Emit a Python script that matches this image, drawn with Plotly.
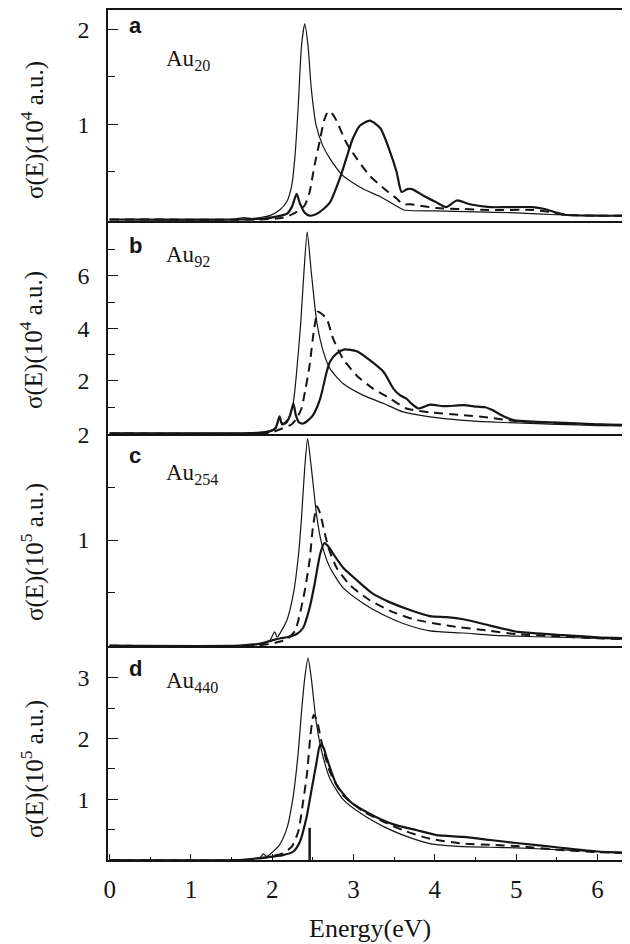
import plotly.graph_objects as go

# ---------------- data ----------------
# Panel a : Au20   (units 10^4 a.u.)
a_thin_E = [0, 1.5, 1.65, 1.75, 1.85, 1.97, 2.09, 2.18, 2.24, 2.28, 2.32, 2.36, 2.40, 2.44, 2.48, 2.54, 2.62, 2.71, 2.87, 3.12, 3.33, 3.53, 3.62, 4.0, 4.5, 5.0, 5.5, 6.0, 6.4]
a_thin_y = [0, 0, 0.02, 0.01, 0.02, 0.04, 0.10, 0.19, 0.36, 0.67, 1.20, 1.83, 2.06, 1.83, 1.38, 0.99, 0.78, 0.64, 0.46, 0.32, 0.24, 0.14, 0.10, 0.09, 0.08, 0.07, 0.05, 0.04, 0.04]
a_dash_E = [0, 1.8, 2.05, 2.18, 2.30, 2.40, 2.46, 2.52, 2.59, 2.64, 2.69, 2.74, 2.79, 2.91, 3.04, 3.20, 3.41, 3.53, 3.61, 3.70, 3.78, 4.02, 4.35, 4.7, 5.2, 5.4, 5.6, 6.0, 6.4]
a_dash_y = [0, 0, 0.01, 0.03, 0.08, 0.15, 0.29, 0.57, 0.85, 1.05, 1.14, 1.11, 1.04, 0.81, 0.64, 0.46, 0.30, 0.22, 0.16, 0.16, 0.15, 0.12, 0.11, 0.10, 0.10, 0.08, 0.05, 0.04, 0.04]
a_thick_E = [0, 1.6, 1.9, 2.05, 2.18, 2.24, 2.30, 2.34, 2.40, 2.46, 2.55, 2.63, 2.71, 2.83, 2.91, 2.99, 3.08, 3.20, 3.33, 3.45, 3.53, 3.59, 3.66, 3.72, 3.86, 4.02, 4.14, 4.27, 4.43, 4.68, 4.9, 5.2, 5.35, 5.5, 5.6, 6.0, 6.4]
a_thick_y = [0, 0, 0.01, 0.03, 0.06, 0.13, 0.27, 0.17, 0.07, 0.04, 0.06, 0.11, 0.18, 0.43, 0.64, 0.85, 0.99, 1.04, 0.96, 0.71, 0.50, 0.29, 0.32, 0.32, 0.25, 0.18, 0.13, 0.20, 0.16, 0.13, 0.13, 0.13, 0.11, 0.07, 0.05, 0.04, 0.04]

# Panel b : Au92   (units 10^4 a.u.)
b_thin_E = [0, 1.6, 1.8, 1.89, 1.97, 2.03, 2.07, 2.09, 2.11, 2.14, 2.20, 2.26, 2.30, 2.35, 2.39, 2.43, 2.48, 2.55, 2.63, 2.71, 2.87, 3.12, 3.37, 3.61, 3.94, 4.35, 4.68, 5.0, 5.5, 6.0, 6.4]
b_thin_y = [0, 0, 0.02, 0.04, 0.10, 0.20, 0.40, 0.60, 0.42, 0.40, 0.57, 1.20, 2.35, 4.20, 6.15, 7.68, 6.15, 4.20, 3.10, 2.47, 1.90, 1.45, 1.14, 0.82, 0.63, 0.50, 0.44, 0.40, 0.35, 0.30, 0.28]
b_dash_E = [0, 1.8, 2.0, 2.13, 2.24, 2.30, 2.36, 2.41, 2.46, 2.51, 2.56, 2.61, 2.67, 2.75, 2.87, 3.04, 3.24, 3.45, 3.65, 3.94, 4.35, 4.68, 5.0, 5.5, 6.0, 6.4]
b_dash_y = [0, 0, 0.05, 0.20, 0.35, 0.57, 0.95, 1.71, 2.60, 3.86, 4.63, 4.55, 4.37, 3.60, 2.85, 2.20, 1.71, 1.33, 0.95, 0.80, 0.70, 0.60, 0.47, 0.40, 0.34, 0.30]
b_thick_E = [0, 1.6, 1.85, 1.97, 2.04, 2.09, 2.12, 2.17, 2.22, 2.26, 2.29, 2.33, 2.38, 2.44, 2.50, 2.59, 2.67, 2.71, 2.79, 2.89, 3.04, 3.20, 3.37, 3.49, 3.57, 3.65, 3.71, 3.80, 3.94, 4.10, 4.25, 4.35, 4.52, 4.62, 4.70, 4.85, 4.98, 5.2, 5.6, 6.0, 6.4]
b_thick_y = [0, 0, 0.03, 0.08, 0.20, 0.65, 0.35, 0.40, 0.70, 1.14, 0.70, 0.42, 0.38, 0.50, 0.69, 1.33, 2.35, 2.73, 3.04, 3.20, 3.13, 2.79, 2.34, 1.71, 1.46, 1.33, 1.14, 0.95, 1.10, 1.04, 1.06, 1.08, 1.02, 1.00, 0.90, 0.65, 0.50, 0.45, 0.40, 0.35, 0.32]

# Panel c : Au254  (units 10^5 a.u.)
c_thin_E = [0, 1.6, 1.8, 1.89, 1.97, 2.03, 2.06, 2.09, 2.18, 2.26, 2.32, 2.36, 2.40, 2.435, 2.48, 2.55, 2.61, 2.71, 2.87, 3.12, 3.37, 3.61, 3.94, 4.35, 4.68, 5.0, 5.5, 6.0, 6.4]
c_thin_y = [0, 0, 0.01, 0.02, 0.05, 0.13, 0.08, 0.11, 0.24, 0.49, 0.84, 1.21, 1.69, 1.96, 1.69, 1.21, 0.96, 0.74, 0.55, 0.40, 0.29, 0.21, 0.14, 0.12, 0.10, 0.09, 0.08, 0.07, 0.06]
c_dash_E = [0, 1.8, 2.05, 2.18, 2.28, 2.34, 2.40, 2.46, 2.50, 2.55, 2.59, 2.63, 2.69, 2.79, 2.96, 3.20, 3.45, 3.74, 4.15, 4.68, 5.0, 5.5, 6.0, 6.4]
c_dash_y = [0, 0, 0.03, 0.06, 0.14, 0.30, 0.52, 0.81, 1.12, 1.32, 1.25, 1.12, 0.93, 0.74, 0.57, 0.43, 0.33, 0.25, 0.19, 0.14, 0.11, 0.09, 0.07, 0.06]
c_thick_E = [0, 1.6, 1.85, 2.0, 2.1, 2.18, 2.30, 2.38, 2.46, 2.52, 2.59, 2.64, 2.70, 2.75, 2.87, 3.04, 3.24, 3.45, 3.65, 3.94, 4.15, 4.35, 4.68, 5.03, 5.57, 6.0, 6.4]
c_thick_y = [0, 0, 0.02, 0.05, 0.07, 0.08, 0.11, 0.17, 0.36, 0.58, 0.87, 0.97, 0.93, 0.87, 0.74, 0.62, 0.49, 0.41, 0.35, 0.28, 0.27, 0.25, 0.19, 0.13, 0.10, 0.08, 0.07]

# Panel d : Au440  (units 10^5 a.u.)
d_thin_E = [0, 1.5, 1.75, 1.85, 1.89, 1.93, 1.97, 2.09, 2.18, 2.26, 2.32, 2.36, 2.40, 2.44, 2.48, 2.54, 2.61, 2.71, 2.87, 3.12, 3.37, 3.61, 3.94, 4.35, 4.68, 5.0, 5.5, 6.0, 6.4]
d_thin_y = [0, 0, 0.02, 0.04, 0.10, 0.06, 0.09, 0.25, 0.52, 1.07, 1.78, 2.44, 3.00, 3.33, 3.00, 2.28, 1.78, 1.34, 1.00, 0.74, 0.55, 0.41, 0.27, 0.22, 0.21, 0.20, 0.17, 0.14, 0.13]
d_dash_E = [0, 1.7, 1.95, 2.13, 2.24, 2.32, 2.38, 2.43, 2.47, 2.51, 2.55, 2.60, 2.71, 2.87, 3.12, 3.37, 3.61, 3.94, 4.35, 4.68, 5.0, 5.5, 6.0, 6.4]
d_dash_y = [0, 0, 0.05, 0.11, 0.22, 0.47, 0.96, 1.45, 2.06, 2.39, 2.30, 1.98, 1.45, 1.07, 0.80, 0.63, 0.49, 0.35, 0.27, 0.25, 0.23, 0.17, 0.13, 0.11]
d_thick_E = [0, 1.6, 1.9, 2.13, 2.26, 2.34, 2.42, 2.48, 2.54, 2.59, 2.63, 2.67, 2.79, 2.96, 3.12, 3.32, 3.53, 3.78, 4.02, 4.35, 4.68, 5.0, 5.5, 6.0, 6.4]
d_thick_y = [0, 0, 0.04, 0.08, 0.14, 0.30, 0.69, 1.13, 1.57, 1.90, 1.85, 1.68, 1.24, 0.96, 0.82, 0.68, 0.57, 0.49, 0.41, 0.38, 0.33, 0.28, 0.21, 0.14, 0.11]
d_stick_E = [2.46, 2.46]
d_stick_y = [0, 0.53]

panel_letters = ["a", "b", "c", "d"]
cluster_labels = ["Au<sub>20</sub>", "Au<sub>92</sub>", "Au<sub>254</sub>", "Au<sub>440</sub>"]
y_titles = ["σ(E)(10<sup>4</sup> a.u.)", "σ(E)(10<sup>4</sup> a.u.)",
            "σ(E)(10<sup>5</sup> a.u.)", "σ(E)(10<sup>5</sup> a.u.)"]
y_major = [[1, 2], [2, 4, 6], [1, 2], [1, 2, 3]]
y_minor = [[0.5, 1.5], [1, 3, 5, 7], [0.5, 1.5], [0.5, 1.5, 2.5]]
y_ranges = [[-0.016, 2.205], [-0.02, 8.09], [-0.003, 2.004], [0.0, 3.525]]
x_major = [0, 1, 2, 3, 4, 5, 6]
x_minor = [0.5, 1.5, 2.5, 3.5, 4.5, 5.5, 6.5]
x_title = "Energy(eV)"

# ---------------- layout geometry ----------------
# The page places the figure 8 px from the window's top-left corner, so the
# figure is 8 px smaller and every screen position is shifted by OFF.
OFF = 8
SCR_W, SCR_H = 630, 944
W, H = SCR_W - OFF, SCR_H - OFF
# plot area in screen pixels
PL, PR, PT, PB = 108, 630, 10, 860
L, R, T, B = PL - OFF, SCR_W - PR, PT - OFF, SCR_H - PB
plot_w = W - L - R
plot_h = H - T - B
# panel boundaries in screen px (top, bottom)
bounds = [(10, 221), (221, 434), (434, 646), (646, 860)]


def py(y_scr):
    return ((H - B) - (y_scr - OFF)) / plot_h


def px(x_scr):
    return ((x_scr - OFF) - L) / plot_w


serif = "Liberation Serif, Times New Roman, serif"
sans = "Liberation Sans, Arial, sans-serif"
ink = "#151515"

fig = go.Figure()

panels = [
    (a_thin_E, a_thin_y, a_dash_E, a_dash_y, a_thick_E, a_thick_y),
    (b_thin_E, b_thin_y, b_dash_E, b_dash_y, b_thick_E, b_thick_y),
    (c_thin_E, c_thin_y, c_dash_E, c_dash_y, c_thick_E, c_thick_y),
    (d_thin_E, d_thin_y, d_dash_E, d_dash_y, d_thick_E, d_thick_y),
]

for i, (tE, ty, dE, dy, kE, ky) in enumerate(panels):
    n = i + 1
    xa = "x" if n == 1 else f"x{n}"
    ya = "y" if n == 1 else f"y{n}"
    fig.add_trace(go.Scatter(x=tE, y=ty, xaxis=xa, yaxis=ya, mode="lines",
                             line=dict(color=ink, width=1.2, shape="spline", smoothing=0.6),
                             showlegend=False, hoverinfo="skip"))
    fig.add_trace(go.Scatter(x=dE, y=dy, xaxis=xa, yaxis=ya, mode="lines",
                             line=dict(color=ink, width=2.0, dash="9px,6px", shape="spline", smoothing=0.6),
                             showlegend=False, hoverinfo="skip"))
    fig.add_trace(go.Scatter(x=kE, y=ky, xaxis=xa, yaxis=ya, mode="lines",
                             line=dict(color=ink, width=2.2, shape="spline", smoothing=0.6),
                             showlegend=False, hoverinfo="skip"))

fig.add_trace(go.Scatter(x=d_stick_E, y=d_stick_y, xaxis="x4", yaxis="y4", mode="lines",
                         line=dict(color=ink, width=2.5), showlegend=False, hoverinfo="skip"))

layout = dict(
    width=W, height=H,
    margin=dict(l=L, r=R, t=T, b=B, pad=0, autoexpand=False),
    paper_bgcolor="white", plot_bgcolor="white",
    showlegend=False,
)

annotations = []
for i in range(4):
    n = i + 1
    top, bot = bounds[i]
    dom = [max(0.0, py(bot)), min(1.0, py(top))]
    xk = "xaxis" if n == 1 else f"xaxis{n}"
    yk = "yaxis" if n == 1 else f"yaxis{n}"
    ya = "y" if n == 1 else f"y{n}"
    xa = "x" if n == 1 else f"x{n}"
    is_bottom = n == 4
    layout[xk] = dict(
        domain=[0, 1], anchor=ya, range=[-0.02, 6.40], automargin=False,
        showline=True, linecolor=ink, linewidth=2,
        mirror=(n == 1),
        showgrid=False, zeroline=False,
        tickmode="array", tickvals=x_major if is_bottom else [],
        ticks="inside" if is_bottom else "", ticklen=6, tickwidth=1.2, tickcolor=ink,
        showticklabels=is_bottom,
        tickfont=dict(family=serif, size=25, color=ink),
        ticklabelstandoff=6,
        minor=dict(tickvals=x_minor if is_bottom else [], ticks="inside" if is_bottom else "",
                   ticklen=3, tickwidth=1, tickcolor=ink),
    )
    if n != 4:
        layout[xk]["matches"] = "x4"
    layout[yk] = dict(
        domain=dom, anchor=xa, range=y_ranges[i], automargin=False,
        showline=True, linecolor=ink, linewidth=1.5,
        showgrid=False, zeroline=False,
        tickmode="array", tickvals=y_major[i],
        ticks="inside", ticklen=10, tickwidth=1.2, tickcolor=ink,
        tickfont=dict(family=serif, size=24, color=ink),
        ticklabelstandoff=12,
        minor=dict(tickvals=y_minor[i], ticks="inside", ticklen=7, tickwidth=1.2, tickcolor=ink),
    )

# text annotations positioned in screen-pixel space
letter_base = [33, 253, 463, 676]
label_base = [67, 263, 481, 689]
title_center = [130, 340, 552, 769]
for i in range(4):
    annotations.append(dict(
        text=f"<b>{panel_letters[i]}</b>", xref="paper", yref="paper",
        x=px(127), y=py(letter_base[i] - 0.33 * 22), xanchor="left", yanchor="middle",
        showarrow=False, font=dict(family=sans, size=22, color=ink)))
    annotations.append(dict(
        text=cluster_labels[i], xref="paper", yref="paper",
        x=px(164), y=py(label_base[i] - 0.3 * 23), xanchor="left", yanchor="middle",
        showarrow=False, font=dict(family=serif, size=23, color=ink)))
    annotations.append(dict(
        text=y_titles[i], xref="paper", yref="paper", textangle=-90,
        x=px(32), y=py(title_center[i]), xanchor="center", yanchor="middle",
        showarrow=False, font=dict(family=serif, size=25, color=ink)))

annotations.append(dict(
    text=x_title, xref="paper", yref="paper",
    x=px(369.5), y=py(928), xanchor="center", yanchor="middle",
    showarrow=False, font=dict(family=serif, size=26, color=ink)))

layout["annotations"] = annotations
fig.update_layout(**layout)

fig.write_html("out.html")
